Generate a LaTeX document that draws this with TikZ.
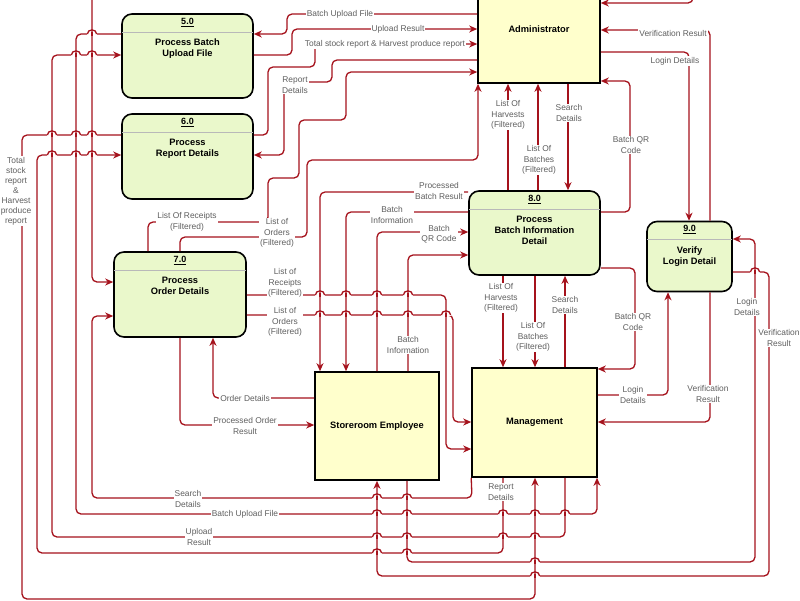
\documentclass[tikz,border=0pt]{standalone}
\usepackage{fontspec}
\setmainfont{Liberation Sans}
\usetikzlibrary{arrows.meta}
\definecolor{dfdred}{RGB}{165,18,28}
\definecolor{procfill}{RGB}{234,248,203}
\definecolor{entfill}{RGB}{255,255,204}
\definecolor{lblgray}{RGB}{95,95,95}
\tikzset{
 conn/.style={draw=dfdred, line width=1.3pt, rounded corners=5pt},
 arr/.style={conn, -{Stealth[length=8pt,width=7pt,inset=2.5pt]}},
 procbox/.style={draw=black, line width=1.6pt, fill=procfill, rounded corners=10pt, inner sep=0pt},
 entbox/.style={draw=black, line width=1.6pt, fill=entfill, minimum height=108pt, inner sep=0pt, font=\fontsize{9.3}{11}\selectfont\bfseries},
 sepline/.style={draw=gray!55, line width=0.7pt},
 ptitle/.style={font=\fontsize{9}{11}\selectfont\bfseries, inner sep=0pt},
 ptext/.style={font=\fontsize{9.3}{11.2}\selectfont\bfseries, align=center, inner sep=0pt},
 lbl/.style={font=\fontsize{8.4}{10.4}\selectfont, text=lblgray, fill=white, align=center, inner sep=1pt},
}
\newcommand\procnode[7]{%
  \node[procbox, minimum width=#4pt, minimum height=#5pt] (#1) at (#2,#3) {};
  \draw[sepline] ([yshift=-19pt,xshift=0.8pt]#1.north west) -- ([yshift=-19pt,xshift=-0.8pt]#1.north east);
  \node[ptitle] at ([yshift=-9pt]#1.north) {\underline{#6}};
  \node[ptext, anchor=north] at ([yshift=-25.5pt]#1.north) {#7};
}
\newcommand\hopat[2]{%
  \fill[white] (#1-4.6,#2-1.3) rectangle (#1+4.6,#2+1.3);
  \draw[conn,rounded corners=0pt] (#1,#2-2) -- (#1,#2+2);
  \draw[conn,rounded corners=0pt] (#1-4.6,#2) .. controls (#1-4.6,#2-5.5) and (#1+4.6,#2-5.5) .. (#1+4.6,#2);
}
\begin{document}
\begin{tikzpicture}[x=1pt,y=-1pt]
\useasboundingbox (0,0) rectangle (800,600);
\clip (0,0) rectangle (800,600);
\fill[white] (0,0) rectangle (800,600);

% processes
\procnode{n5}{187.5}{56}{131}{84}{5.0}{Process Batch\\Upload File}
\procnode{n6}{187.5}{156.5}{131}{85}{6.0}{Process\\Report Details}
\procnode{n7}{180}{294.5}{132}{85}{7.0}{Process\\Order Details}
\procnode{n8}{534.5}{233}{131}{84}{8.0}{Process\\Batch Information\\Detail}
\procnode{n9}{689.5}{256.5}{85}{70}{9.0}{Verify\\Login Detail}

% external entities
\node[entbox, minimum width=122pt] (admin) at (539,29) {Administrator};
\node[entbox, minimum width=124pt] (store) at (377,426) {Storeroom Employee};
\node[entbox, minimum width=125pt, minimum height=109pt] (mgmt) at (534.5,422.5) {Management};

% free ends above the picture
\coordinate (topA) at (92,-10);
\coordinate (topB) at (693,-10);

% connectors: Administrator <-> 5.0 / 6.0 / 7.0
\draw[arr] (admin.west |- 0,14) -- (287,14) -- (287,34) -- (n5.east |- 0,34);
\draw[arr] (n5.east |- 0,55) -- (292,55) -- (292,29) -- (admin.west |- 0,29);
\draw[arr] (n6.east |- 0,135) -- (268,135) -- (268,67) -- (315,67) -- (315,44) -- (admin.west |- 0,44);
\draw[arr] (admin.west |- 0,60) -- (332,60) -- (332,82) -- (284,82) -- (284,155) -- (n6.east |- 0,155);
\draw[arr] (n7.north -| 148,0) -- (148,222) -- (268,222) -- (268,178) -- (299,178) -- (299,120) -- (346,120) -- (346,72) -- (admin.west |- 0,72);
\draw[arr] (n7.north -| 180,0) -- (180,237) -- (307,237) -- (307,160) -- (478,160) -- (admin.south -| 478,0);

% Administrator <-> 8.0 / 9.0
\draw[arr] (n8.north -| 508,0) -- (admin.south -| 508,0);
\draw[arr] (n8.north -| 538,0) -- (admin.south -| 538,0);
\draw[arr] (admin.south -| 568,0) -- (n8.north -| 568,0);
\draw[arr] (n8.east |- 0,212) -- (630,212) -- (630,81) -- (admin.east |- 0,81);
\draw[arr] (admin.east |- 0,52) -- (689,52) -- (n9.north -| 689,0);
\draw[arr] (n9.north -| 710,0) -- (710,30) -- (admin.east |- 0,30);
\draw[arr] (topB) -- (693,3) -- (admin.east |- 0,3);

% left side
\draw[arr] (topA) -- (92,282) -- (n7.west |- 0,282);
\draw[arr] (mgmt.south west) -- (472,498) -- (92,498) -- (92,316) -- (n7.west |- 0,316);
\draw[arr] (n5.west |- 0,34) -- (76,34) -- (76,514) -- (597,514) -- (mgmt.south -| 597,0);
\draw[arr] (mgmt.south -| 565,0) -- (565,537) -- (52,537) -- (52,55) -- (n5.west |- 0,55);
\draw[arr] (mgmt.south -| 503,0) -- (503,553) -- (37,553) -- (37,155) -- (n6.west |- 0,155);
\draw[arr] (n6.west |- 0,135) -- (22,135) -- (22,599) -- (535,599) -- (mgmt.south -| 535,0);

% Storeroom / Management <-> 9.0
\draw[arr] (store.south -| 407,0) -- (407,562) -- (755,562) -- (755,239) -- (n9.east |- 0,239);
\draw[arr] (n9.east |- 0,272) -- (769,272) -- (769,576) -- (377,576) -- (store.south -| 377,0);
\draw[arr] (mgmt.east |- 0,395) -- (668,395) -- (n9.south -| 668,0);
\draw[arr] (n9.south -| 710,0) -- (710,422) -- (mgmt.east |- 0,422);

% 8.0 <-> Management
\draw[arr] (n8.south -| 503,0) -- (mgmt.north -| 503,0);
\draw[arr] (n8.south -| 535,0) -- (mgmt.north -| 535,0);
\draw[arr] (mgmt.north -| 565,0) -- (n8.south -| 565,0);
\draw[arr] (n8.east |- 0,268) -- (635,268) -- (635,369) -- (mgmt.east |- 0,369);

% 8.0 <-> Storeroom
\draw[arr] (n8.west |- 0,192) -- (320,192) -- (store.north -| 320,0);
\draw[arr] (n8.west |- 0,212) -- (346,212) -- (store.north -| 346,0);
\draw[arr] (store.north -| 377,0) -- (377,232) -- (n8.west |- 0,232);
\draw[arr] (store.north -| 408,0) -- (408,255) -- (n8.west |- 0,255);

% 7.0 <-> Management / Storeroom
\draw[arr] (n7.east |- 0,295) -- (446,295) -- (446,449) -- (mgmt.west |- 0,449);
\draw[arr] (n7.east |- 0,315) -- (453,315) -- (453,422) -- (mgmt.west |- 0,422);
\draw[arr] (store.west |- 0,398) -- (213,398) -- (n7.south -| 213,0);
\draw[arr] (n7.south -| 180,0) -- (180,425) -- (store.west |- 0,425);

% line hops
\foreach \p/\q in {92/34, 76/55, 92/55, 52/135, 76/135, 92/135, 52/155, 76/155, 92/155,
  377/498, 407/498, 377/514, 407/514, 503/514, 535/514, 565/514,
  377/537, 407/537, 503/537, 535/537, 377/553, 407/553, 535/562, 535/576,
  320/295, 346/295, 377/295, 408/295, 320/315, 346/315, 377/315, 408/315, 446/315, 755/272}
  {\hopat{\p}{\q}}

% labels
\node[lbl] at (340,14) {Batch Upload File};
\node[lbl] at (398,29) {Upload Result};
\node[lbl] at (385,44) {Total stock report \& Harvest produce report};
\node[lbl] at (295,85) {Report\\Details};
\node[lbl] at (187,222) {List Of Receipts\\(Filtered)};
\node[lbl] at (277,233) {List of\\Orders\\(Filtered)};
\node[lbl] at (439,191) {Processed\\Batch Result};
\node[lbl] at (392,215) {Batch\\Information};
\node[lbl] at (439,234) {Batch\\QR Code};
\node[lbl] at (408,345) {Batch\\Information};
\node[lbl] at (285,283) {List of\\Receipts\\(Filtered)};
\node[lbl] at (285,322) {List of\\Orders\\(Filtered)};
\node[lbl] at (245,398) {Order Details};
\node[lbl] at (245,426) {Processed Order\\Result};
\node[lbl] at (188,499) {Search\\Details};
\node[lbl] at (245,514) {Batch Upload File};
\node[lbl] at (199,537) {Upload\\Result};
\node[lbl] at (501,492) {Report\\Details};
\node[lbl, font=\fontsize{8.4}{10}\selectfont] at (16,191) {Total\\stock\\report\\\&\\Harvest\\produce\\report};
\node[lbl] at (508,115) {List Of\\Harvests\\(Filtered)};
\node[lbl] at (539,160) {List Of\\Batches\\(Filtered)};
\node[lbl] at (569,113) {Search\\Details};
\node[lbl] at (631,145) {Batch QR\\Code};
\node[lbl] at (673,33) {Verification Result};
\node[lbl] at (675,61) {Login Details};
\node[lbl] at (501,298) {List Of\\Harvests\\(Filtered)};
\node[lbl] at (533,337) {List Of\\Batches\\(Filtered)};
\node[lbl] at (565,305) {Search\\Details};
\node[lbl] at (633,322) {Batch QR\\Code};
\node[lbl] at (747,307) {Login\\Details};
\node[lbl] at (779,338) {Verification\\Result};
\node[lbl] at (633,395) {Login\\Details};
\node[lbl] at (708,394) {Verification\\Result};
\end{tikzpicture}
\end{document}
